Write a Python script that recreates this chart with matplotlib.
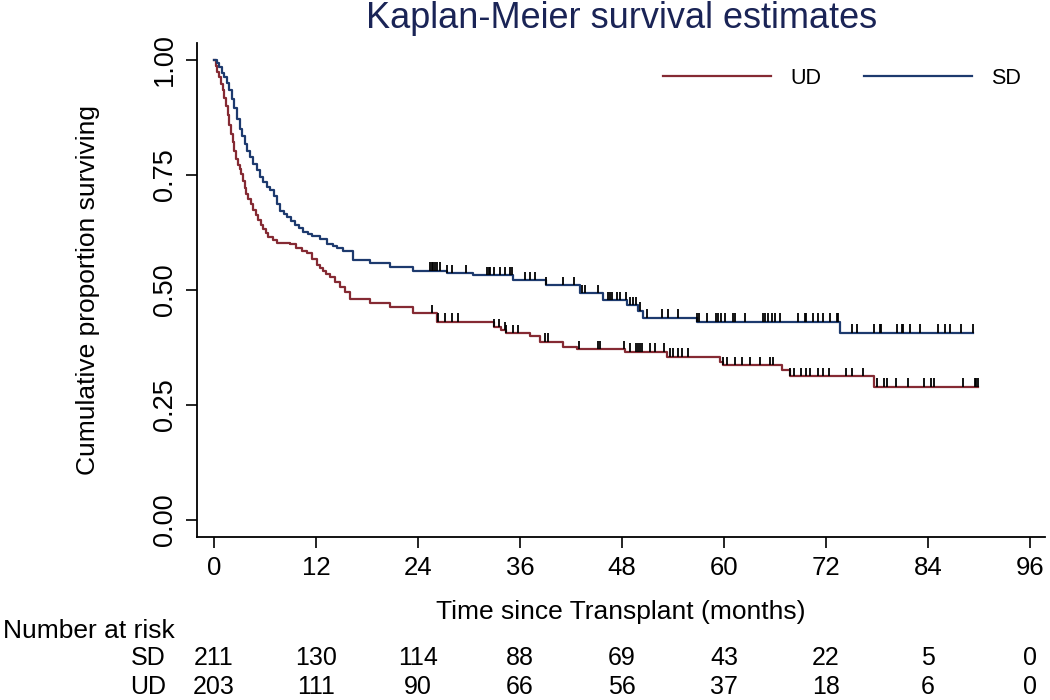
import numpy as np
import matplotlib.pyplot as plt
from matplotlib.transforms import blended_transform_factory

plt.rcParams['font.family'] = ['Liberation Sans', 'DejaVu Sans']

# KM step points: time (months) and survival after each drop
sd_time = [0, 0.3, 0.6, 0.9, 1.2, 1.5, 1.8, 2.1, 2.4, 2.7, 3.0, 3.3, 3.6, 3.9, 4.2,
           4.6, 5.0, 5.4, 5.8, 6.2, 6.6, 7.0, 7.4, 7.8, 8.2, 8.6, 9.0, 9.5, 10.0,
           10.5, 11.0, 11.5, 12.5, 13.3, 14.0, 14.5, 15.2, 16.4, 18.4,
           20.7, 23.4, 27.4, 30.5, 35.2, 39.1, 43.1, 45.8, 48.6, 49.9, 50.5, 56.8, 73.6]
sd_surv = [1.0, 0.993, 0.984, 0.972, 0.962, 0.950, 0.935, 0.915, 0.895, 0.872, 0.850,
           0.835, 0.818, 0.803, 0.790, 0.775, 0.760, 0.745, 0.735, 0.725, 0.718, 0.705,
           0.688, 0.672, 0.665, 0.658, 0.650, 0.642, 0.635, 0.627, 0.622, 0.618,
           0.61, 0.60, 0.596, 0.592, 0.585, 0.565, 0.558, 0.551, 0.542, 0.536, 0.533,
           0.522, 0.511, 0.493, 0.478, 0.467, 0.455, 0.440, 0.431, 0.407]
sd_last = 89.3

ud_time = [0, 0.2, 0.4, 0.6, 0.8, 1.0, 1.2, 1.4, 1.6, 1.8, 2.0, 2.2, 2.4, 2.6, 2.8,
           3.0, 3.2, 3.4, 3.6, 3.8, 4.0, 4.3, 4.6, 4.9, 5.2, 5.5, 5.8, 6.1, 6.4,
           6.9, 7.4, 8.9, 9.7, 10.3, 10.9, 11.5, 12.1, 12.5, 12.8, 13.2, 13.6, 14.2,
           14.8, 15.4, 16.0, 18.4, 20.7, 23.4, 26.2, 32.9, 33.8, 34.4, 37.2, 38.4,
           41.1, 42.7, 48.4, 53.3, 59.5, 59.9, 66.8, 67.8, 77.6]
ud_surv = [1.0, 0.988, 0.975, 0.962, 0.948, 0.935, 0.918, 0.900, 0.880, 0.858, 0.840,
           0.822, 0.803, 0.785, 0.772, 0.762, 0.752, 0.738, 0.722, 0.708, 0.698,
           0.688, 0.675, 0.664, 0.652, 0.642, 0.632, 0.624, 0.616, 0.609, 0.603,
           0.601, 0.591, 0.585, 0.580, 0.567, 0.555, 0.548, 0.541, 0.535, 0.529,
           0.518, 0.507, 0.495, 0.480, 0.471, 0.464, 0.449, 0.431, 0.420, 0.413,
           0.406, 0.399, 0.388, 0.377, 0.371, 0.366, 0.355, 0.344, 0.337, 0.326,
           0.313, 0.290]
ud_last = 89.9

# censored observations
sd_censor = [25.4, 25.6, 25.8, 26.0, 26.2, 26.6, 27.4, 28.0, 29.7, 32.1, 32.3, 32.5,
             32.9, 33.6, 34.2, 34.8, 35.0, 36.6, 37.2, 37.8, 39.1, 41.1, 42.3, 43.3,
             43.6, 45.2, 46.4, 46.6, 46.8, 47.4, 47.8, 48.5, 48.9, 49.3, 49.7, 50.1,
             50.9, 52.7, 53.4, 54.6, 56.8, 57.0, 58.0, 59.0, 59.3, 59.7, 60.1, 61.1,
             61.3, 62.5, 64.6, 64.8, 65.2, 65.6, 66.0, 66.6, 68.7, 69.5, 69.7, 70.5,
             71.1, 71.7, 72.5, 73.3, 73.4, 75.0, 75.6, 77.6, 78.3, 78.5, 80.3, 80.9,
             81.1, 81.9, 83.0, 85.2, 86.0, 86.6, 87.9, 89.3]
ud_censor = [25.6, 26.4, 27.2, 28.0, 28.7, 32.9, 33.5, 34.2, 34.4, 35.2, 35.8, 38.9,
             39.3, 42.9, 45.2, 45.4, 48.2, 48.9, 49.7, 49.9, 50.1, 50.3, 51.3, 51.9,
             52.9, 53.7, 54.0, 54.6, 55.0, 55.8, 59.9, 60.3, 61.3, 62.1, 63.1, 64.2,
             65.4, 65.8, 67.8, 68.2, 69.0, 69.7, 70.1, 71.1, 71.7, 72.3, 74.4, 75.0,
             76.4, 78.0, 78.8, 79.2, 80.2, 81.6, 83.5, 84.3, 84.7, 88.1, 89.5, 89.7, 89.9]

risk_times = [0, 12, 24, 36, 48, 60, 72, 84, 96]
sd_risk = [211, 130, 114, 88, 69, 43, 22, 5, 0]
ud_risk = [203, 111, 90, 66, 56, 37, 18, 6, 0]

red = '#852a33'
blue = '#1d3a6e'


def surv_at(times, surv, t):
    idx = np.searchsorted(times, t, side='right') - 1
    return np.array(surv)[idx]


fig = plt.figure(figsize=(10.5, 7), dpi=100)
ax = fig.add_axes([197 / 1050, 1 - 537 / 700, 848 / 1050, 494 / 700])

curves = [(ud_time, ud_surv, ud_last, ud_censor, red, 'UD'),
          (sd_time, sd_surv, sd_last, sd_censor, blue, 'SD')]
for times, surv, last, cens, col, lab in curves:
    t = list(times) + [last]
    s = list(surv) + [surv[-1]]
    ax.step(t, s, where='post', color=col, lw=1.6, label=lab)
    cs = surv_at(times, surv, cens)
    ax.vlines(cens, cs, cs + 0.018, color='black', lw=1.3)

ax.set_xlim(-2, 97.76)
ax.set_ylim(-0.037, 1.037)
ax.set_xticks(risk_times)
ax.set_yticks([0, 0.25, 0.5, 0.75, 1.0])
ax.set_yticklabels(['0.00', '0.25', '0.50', '0.75', '1.00'], rotation=90, va='center')
for side in ['top', 'right']:
    ax.spines[side].set_visible(False)
for side in ['left', 'bottom']:
    ax.spines[side].set_linewidth(1.3)
ax.tick_params(direction='out', length=8, width=1.2, labelsize=18.5, pad=6)
ax.tick_params(axis='y', labelsize=19.5)

ax.set_xlabel('Time since Transplant (months)', fontsize=19, va='center')
ax.xaxis.set_label_coords(0.5, (537 - 612) / 494)
ax.set_ylabel('Cumulative proportion surviving', fontsize=19, va='center')
ax.yaxis.set_label_coords((88 - 197) / 848, 0.5)

fig.text(622 / 1050, 1 - 18 / 700, 'Kaplan-Meier survival estimates', fontsize=26,
         color='#1a2456', ha='center', va='center')

ax.legend(loc='center', bbox_to_anchor=(0.7606, 0.929), ncol=2, frameon=False,
          fontsize=15.5, handlelength=5.0, handletextpad=0.9, columnspacing=2.0)

# number at risk table
tr = blended_transform_factory(ax.transData, fig.transFigure)
fig.text(3 / 1050, 1 - 631 / 700, 'Number at risk', fontsize=19, ha='left', va='center')
for lab, vals, ypx in [('SD', sd_risk, 658), ('UD', ud_risk, 687)]:
    fig.text(166 / 1050, 1 - ypx / 700, lab, fontsize=18, ha='right', va='center')
    for t, v in zip(risk_times, vals):
        ax.text(t, 1 - ypx / 700, str(v), transform=tr, fontsize=18,
                ha='center', va='center')

fig.savefig('out.png', dpi=100)
